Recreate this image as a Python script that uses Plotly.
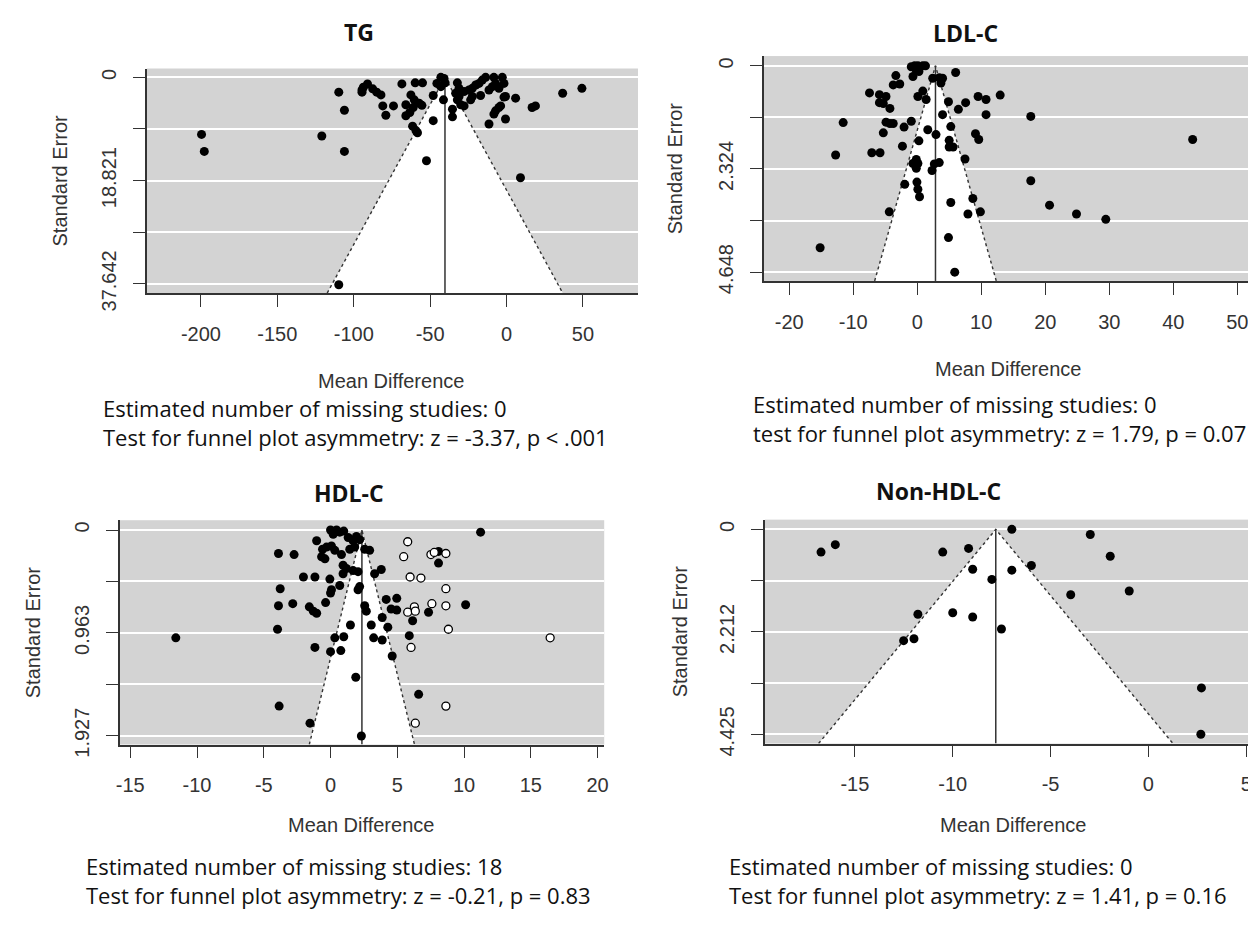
import plotly.graph_objects as go

W, H = 1256, 933

# ---------------- data ----------------
# TG
tg_md = [-199.6, -197.8, -120.9, -109.8, -106.1, -106.1, -109.8,
         -94.6, -93.7, -91.0, -94.6, -87.6, -85.0, -82.2, -81.0, -79.0, -74.0,
         -68.5, -59.8, -55.0, -65.9, -65.9, -62.6, -60.4, -57.2, -55.4, -63.3, -61.1,
         -61.5, -59.3, -58.3, -52.4, -48.0, -48.0,
         -45.6, -43.0, -40.9, -43.0, -40.2, -41.3, -35.4, -35.4,
         -32.2, -31.1, -33.3, -32.2, -30.0, -27.8, -31.1,
         -27.8, -24.6, -22.4, -20.2, -18.0, -15.9, -13.7,
         -23.5, -22.4, -17.0,
         -8.3, -2.8, -7.2, -5.0, -1.7, -11.5, -9.3,
         -0.7, 5.9, -1.7,
         -5.0, -7.2, -8.3, -11.5, -0.7, -3.9,
         16.7, 18.9, 9.1, 36.7, 49.3]
tg_se = [10.4, 13.5, 10.7, 2.7, 6.0, 13.5, 37.8,
         2.3, 1.8, 1.2, 2.7, 2.1, 2.7, 3.2, 5.2, 6.9, 5.2,
         1.2, 1.0, 1.0, 5.0, 7.0, 3.2, 4.1, 4.7, 5.1, 6.4, 5.5,
         8.9, 9.7, 10.1, 15.2, 7.9, 3.3,
         1.1, 0.0, 0.2, 1.7, 1.0, 4.1, 5.8, 7.2,
         1.0, 2.0, 2.9, 4.1, 5.0, 5.2, 3.5,
         2.6, 2.3, 2.0, 1.4, 1.1, 0.5, 0.0,
         4.1, 3.5, 3.3,
         0.0, 0.0, 1.1, 2.0, 1.1, 2.3, 1.7,
         3.5, 3.8, 3.6,
         5.5, 6.1, 6.7, 8.5, 7.6, 5.2,
         5.5, 5.2, 18.3, 2.9, 2.0]
tg_xticks = [-200, -150, -100, -50, 0, 50]
tg_xtext = ["-200", "-150", "-100", "-50", "0", "50"]
tg_yticks = [0, 9.4105, 18.821, 28.2315, 37.642]
tg_ytext = ["0", "", "18.821", "", "37.642"]

# LDL-C
ldl_md = [-0.93, -0.41, 0.10, 0.87, -0.15, -0.67, 0.26, 1.29,
          -3.34, -3.75, -2.73, 2.42, 3.44, 3.96, 3.70, 6.00,
          -7.46, -5.91, -4.88, -5.91, -5.30, -4.27, 0.10, 0.87, 1.39,
          4.88, 6.43, 7.56, 9.51, 10.75, 12.96, 10.75, 3.96,
          -11.57, -4.88, -4.27, -3.75, -5.30,
          -2.06, -0.93, 1.65, 2.93, 0.26, 5.24, 9.10, 9.61,
          4.99, 4.99, 5.60, -2.31, 17.74, 43.03,
          -12.75, -7.10, -5.81, -0.15, 0.10, -0.67, -0.15,
          2.31, 2.67, 3.44, 7.46, -1.95, -0.05, 0.10, 0.36,
          17.74, -4.37, 5.24, 8.69, 9.87, 7.92, 20.67, 24.88, 29.46,
          4.88, -15.17, 5.86]
ldl_se = [0.02, 0.00, 0.00, 0.00, 0.10, 0.24, 0.13, 0.00,
          0.22, 0.43, 0.41, 0.28, 0.27, 0.28, 0.39, 0.15,
          0.61, 0.65, 0.69, 0.83, 0.85, 0.96, 0.69, 0.57, 0.76,
          0.81, 0.98, 0.83, 0.69, 0.76, 0.66, 1.10, 1.10,
          1.28, 1.27, 1.30, 1.30, 1.51,
          1.38, 1.25, 1.44, 1.55, 1.69, 1.37, 1.53, 1.66,
          1.68, 1.83, 1.83, 1.81, 1.14, 1.66,
          2.01, 1.96, 1.96, 2.11, 2.20, 2.20, 2.31,
          2.36, 2.21, 2.18, 2.10, 2.67, 2.62, 2.78, 2.95,
          2.59, 3.29, 3.08, 2.99, 3.29, 3.34, 3.14, 3.34, 3.46,
          3.87, 4.10, 4.65]
ldl_xticks = [-20, -10, 0, 10, 20, 30, 40, 50]
ldl_xtext = ["-20", "-10", "0", "10", "20", "30", "40", "50"]
ldl_yticks = [0, 1.162, 2.324, 3.486, 4.648]
ldl_ytext = ["0", "", "2.324", "", "4.648"]

# HDL-C (observed studies)
hdl_md = [0.00, 0.45, 0.99, 0.20, 0.69,
          -1.04, -0.60, 0.07, -0.30, -0.67, -0.42, 0.32,
          1.32, 1.69, 1.94, 1.44, 1.81, 2.18, 2.56, 2.93,
          0.82, 0.94, 1.19, 1.69, 2.06, 0.94,
          -3.90, -2.73, -2.03, -1.17,
          -0.05, 0.69, 0.00, 0.07, 3.30, 3.80, 2.06, 2.18, -3.77,
          -3.90, -2.83, -1.59, -1.29, -1.04, -0.37, 2.56, 2.68,
          4.17, 4.96, 4.54, 4.96, 8.09, 8.09, 7.34, 6.15, 10.12, 11.24,
          -3.97, 1.49, 3.05, 4.29, 3.87, 0.32, 0.99, 3.23, 3.87, 5.90,
          -11.59, -1.17, 0.00, 0.77, 4.62, 1.89, 6.60, -3.85, -1.54, 2.31]
hdl_se = [0.00, 0.00, 0.01, 0.04, 0.02,
          0.10, 0.18, 0.15, 0.16, 0.25, 0.27, 0.19,
          0.07, 0.10, 0.06, 0.18, 0.16, 0.09, 0.18, 0.19,
          0.23, 0.33, 0.36, 0.38, 0.39, 0.41,
          0.22, 0.23, 0.44, 0.44,
          0.46, 0.52, 0.59, 0.56, 0.41, 0.37, 0.56, 0.53, 0.55,
          0.71, 0.69, 0.72, 0.76, 0.78, 0.68, 0.71, 0.76,
          0.65, 0.64, 0.74, 0.75, 0.20, 0.31, 0.77, 0.85, 0.70, 0.02,
          0.93, 0.89, 0.89, 0.91, 0.82, 1.01, 1.00, 1.01, 1.03, 0.99,
          1.01, 1.10, 1.14, 1.13, 1.18, 1.38, 1.54, 1.65, 1.81, 1.93]
# HDL-C (imputed studies, trim-and-fill)
hdl_fill_md = [5.78, 5.48, 7.52, 8.64, 7.77, 5.96, 6.77, 8.64, 6.28, 5.78,
               6.35, 7.59, 8.64, 8.83, 6.03, 16.45, 8.64, 6.35]
hdl_fill_se = [0.11, 0.25, 0.23, 0.22, 0.21, 0.44, 0.45, 0.55, 0.72, 0.77,
               0.76, 0.69, 0.71, 0.93, 1.10, 1.01, 1.65, 1.81]
hdl_xticks = [-15, -10, -5, 0, 5, 10, 15, 20]
hdl_xtext = ["-15", "-10", "-5", "0", "5", "10", "15", "20"]
hdl_yticks = [0, 0.48175, 0.9635, 1.44525, 1.927]
hdl_ytext = ["0", "", "0.963", "", "1.927"]

# Non-HDL-C
nhdl_md = [-16.73, -16.00, -10.51, -9.19, -8.98, -8.00, -6.98, -6.98, -5.98,
           -2.97, -1.95, -3.97, -0.98, -11.78, -10.00, -8.98, -7.51,
           -12.51, -11.98, 2.71, 2.68]
nhdl_se = [0.49, 0.33, 0.49, 0.41, 0.86, 1.08, 0.00, 0.88, 0.78,
           0.11, 0.58, 1.41, 1.33, 1.83, 1.80, 1.89, 2.15,
           2.40, 2.36, 3.42, 4.42]
nhdl_xticks = [-15, -10, -5, 0, 5]
nhdl_xtext = ["-15", "-10", "-5", "0", "5"]
nhdl_yticks = [0, 1.10625, 2.2125, 3.31875, 4.425]
nhdl_ytext = ["0", "", "2.212", "", "4.425"]

# pooled estimates
tg_est, ldl_est, hdl_est, nhdl_est = -40.3, 2.85, 2.35, -7.8

panels = [
    dict(name="TG", md=tg_md, se=tg_se, est=tg_est,
         xr=[-235.4, 86.0], yr=[39.32, -1.61],
         xt=tg_xticks, xtt=tg_xtext, yt=tg_yticks, ytt=tg_ytext,
         box=(135.7, 630.0, 61.7, 290.7),
         title_xy=(349, 24), xlab_xy=(381, 380), ylab_x=48,
         notes="Estimated number of missing studies: 0<br>"
               "Test for funnel plot asymmetry: z = -3.37, p < .001",
         note_xy=(90, 391)),
    dict(name="LDL-C", md=ldl_md, se=ldl_se, est=ldl_est,
         xr=[-23.96, 52.0], yr=[4.847, -0.22],
         xt=ldl_xticks, xtt=ldl_xtext, yt=ldl_yticks, ytt=ldl_ytext,
         box=(756.7, 1246.0, 49.0, 278.3),
         title_xy=(960, 25), xlab_xy=(1002, 368), ylab_x=668,
         notes="Estimated number of missing studies: 0<br>"
               "test for funnel plot asymmetry: z = 1.79, p = 0.07",
         note_xy=(744, 386)),
    dict(name="HDL-C", md=hdl_md, se=hdl_se, est=hdl_est,
         xr=[-15.8, 20.5], yr=[2.01, -0.092],
         xt=hdl_xticks, xtt=hdl_xtext, yt=hdl_yticks, ytt=hdl_ytext,
         box=(108.3, 596.0, 522.3, 751.0),
         title_xy=(339, 495), xlab_xy=(351, 833), ylab_x=22,
         notes="Estimated number of missing studies: 18<br>"
               "Test for funnel plot asymmetry: z = -0.21, p = 0.83",
         note_xy=(72, 858)),
    dict(name="Non-HDL-C", md=nhdl_md, se=nhdl_se, est=nhdl_est,
         xr=[-19.6, 5.5], yr=[4.62, -0.21],
         xt=nhdl_xticks, xtt=nhdl_xtext, yt=nhdl_yticks, ytt=nhdl_ytext,
         box=(757.7, 1252.0, 521.7, 750.0),
         title_xy=(932, 493), xlab_xy=(1007, 833), ylab_x=672,
         notes="Estimated number of missing studies: 0<br>"
               "Test for funnel plot asymmetry: z = 1.41, p = 0.16",
         note_xy=(720, 858)),
]

AX = "#333333"
TICKFONT = dict(family="Liberation Sans, Arial, sans-serif", size=20, color="#333333")
NOTEFONT = dict(family="Open Sans, sans-serif", size=22, color="#111111")
TITLEFONT = dict(family="Open Sans, sans-serif", size=23, color="#111111")

fig = go.Figure()
annotations = []

for i, p in enumerate(panels):
    n = "" if i == 0 else str(i + 1)
    xa, ya = "x" + n, "y" + n
    x0, x1, y0, y1 = p["box"]
    est = p["est"]
    se_bot = p["yr"][0]
    xl, xr_ = est - 1.96 * se_bot, est + 1.96 * se_bot
    # white pseudo-confidence region
    fig.add_trace(go.Scatter(
        x=[xl, est, xr_, xl], y=[se_bot, 0, se_bot, se_bot], mode="lines",
        fill="toself", fillcolor="white", line=dict(width=0),
        xaxis=xa, yaxis=ya, showlegend=False, hoverinfo="skip"))
    # dotted funnel edges
    fig.add_trace(go.Scatter(
        x=[xl, est, xr_], y=[se_bot, 0, se_bot], mode="lines",
        line=dict(color=AX, width=1.4, dash="dot"),
        xaxis=xa, yaxis=ya, showlegend=False, hoverinfo="skip"))
    # vertical line at pooled estimate
    fig.add_trace(go.Scatter(
        x=[est, est], y=[0, se_bot], mode="lines",
        line=dict(color=AX, width=1.5), xaxis=xa, yaxis=ya,
        showlegend=False, hoverinfo="skip"))
    fig.add_trace(go.Scatter(
        x=p["md"], y=p["se"], mode="markers",
        marker=dict(color="black", size=9, line=dict(width=0)),
        xaxis=xa, yaxis=ya, showlegend=False))
    if p["name"] == "HDL-C":
        fig.add_trace(go.Scatter(
            x=hdl_fill_md, y=hdl_fill_se, mode="markers",
            marker=dict(color="white", size=8, line=dict(width=1.3, color="black")),
            xaxis=xa, yaxis=ya, showlegend=False))

    fig.update_layout(**{
        ("xaxis" + n): dict(domain=[x0 / W, x1 / W], range=p["xr"], anchor=ya,
                            tickvals=p["xt"], ticktext=p["xtt"], ticks="outside",
                            ticklen=12, tickcolor=AX, tickwidth=1.3, showline=True,
                            linecolor=AX, linewidth=1.5, showgrid=False,
                            zeroline=False, tickfont=TICKFONT,
                            ticklabelstandoff=10),
        ("yaxis" + n): dict(domain=[1 - y1 / H, 1 - y0 / H], range=p["yr"], anchor=xa,
                            tickvals=p["yt"], ticktext=p["ytt"], ticks="outside",
                            ticklen=12, tickcolor=AX, tickwidth=1.3, showline=True,
                            linecolor=AX, linewidth=1.5, showgrid=True,
                            gridcolor="white", gridwidth=2, zeroline=False,
                            tickfont=TICKFONT, tickangle=-90,
                            ticklabelstandoff=9),
    })

    tx, ty = p["title_xy"]
    annotations.append(dict(text="<b>%s</b>" % p["name"], x=tx / W, y=1 - ty / H,
                            xref="paper", yref="paper", showarrow=False,
                            xanchor="center", yanchor="middle", font=TITLEFONT))
    lx, ly = p["xlab_xy"]
    annotations.append(dict(text="Mean Difference", x=lx / W, y=1 - ly / H,
                            xref="paper", yref="paper", showarrow=False,
                            xanchor="center", yanchor="middle", font=TICKFONT))
    annotations.append(dict(text="Standard Error", x=p["ylab_x"] / W,
                            y=1 - ((y0 + y1) / 2) / H, xref="paper", yref="paper",
                            showarrow=False, textangle=-90, xanchor="center",
                            yanchor="middle", font=TICKFONT))
    nx, ny = p["note_xy"]
    annotations.append(dict(text=p["notes"], x=nx / W, y=1 - ny / H,
                            xref="paper", yref="paper", showarrow=False,
                            xanchor="left", yanchor="top", align="left",
                            font=NOTEFONT))

fig.update_layout(width=W, height=H, autosize=False,
                  margin=dict(l=0, r=0, t=0, b=0),
                  paper_bgcolor="white", plot_bgcolor="#d3d3d3",
                  annotations=annotations, showlegend=False)

fig.write_html("out.html")
